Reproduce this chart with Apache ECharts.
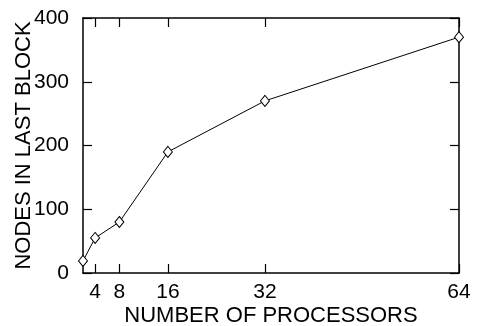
<!DOCTYPE html>
<html><head><meta charset="utf-8">
<script src="https://cdn.jsdelivr.net/npm/echarts@6/dist/echarts.min.js"></script>
<style>html,body{margin:0;padding:0;background:#fff}#c{width:477px;height:326px}</style>
</head><body><div id="c"></div>
<script>
const processors = [2, 4, 8, 16, 32, 64];
const nodes = [19, 55, 80, 190, 270, 370];
const xTicks = [4, 8, 16, 32, 64];
const yTicks = [0, 100, 200, 300, 400];
const xName = 'NUMBER OF PROCESSORS';
const yName = 'NODES IN LAST BLOCK';

const font = 'Liberation Sans';
const chart = echarts.init(document.getElementById('c'), null, {renderer: 'canvas'});
const axisLine = {show: true, onZero: false, lineStyle: {color: '#000', width: 1.5}};
const tick = {show: true, inside: true, length: 9, lineStyle: {color: '#000', width: 1.2}};
chart.setOption({
  animation: false,
  grid: {left: 83, right: 18, top: 18, bottom: 53, containLabel: false, outerBoundsMode: 'none'},
  xAxis: [{
    type: 'value', min: 2, max: 64,
    axisLine: axisLine,
    axisTick: Object.assign({customValues: xTicks}, tick),
    axisLabel: {customValues: xTicks, color: '#000', fontFamily: font, fontSize: 21, margin: 9},
    splitLine: {show: false},
    name: xName, nameLocation: 'middle', nameGap: 32, nameMoveOverlap: false,
    nameTextStyle: {color: '#000', fontFamily: font, fontSize: 22}
  }, {
    type: 'value', min: 2, max: 64, position: 'top',
    axisLine: axisLine,
    axisTick: Object.assign({customValues: xTicks}, tick),
    axisLabel: {show: false}, splitLine: {show: false}
  }],
  yAxis: [{
    type: 'value', min: 0, max: 400, interval: 100,
    axisLine: axisLine,
    axisTick: tick,
    axisLabel: {customValues: yTicks, color: '#000', fontFamily: font, fontSize: 21, margin: 14},
    splitLine: {show: false},
    name: yName, nameLocation: 'middle', nameGap: 48, nameMoveOverlap: false,
    nameTextStyle: {color: '#000', fontFamily: font, fontSize: 22}
  }, {
    type: 'value', min: 0, max: 400, interval: 100, position: 'right',
    axisLine: axisLine, axisTick: tick,
    axisLabel: {show: false}, splitLine: {show: false}
  }],
  series: [{
    type: 'line',
    data: processors.map((p, i) => [p, nodes[i]]),
    symbol: 'diamond', symbolSize: [9, 11],
    itemStyle: {color: '#fff', borderColor: '#000', borderWidth: 1},
    lineStyle: {color: '#000', width: 1},
    clip: false
  }]
});
</script></body></html>
